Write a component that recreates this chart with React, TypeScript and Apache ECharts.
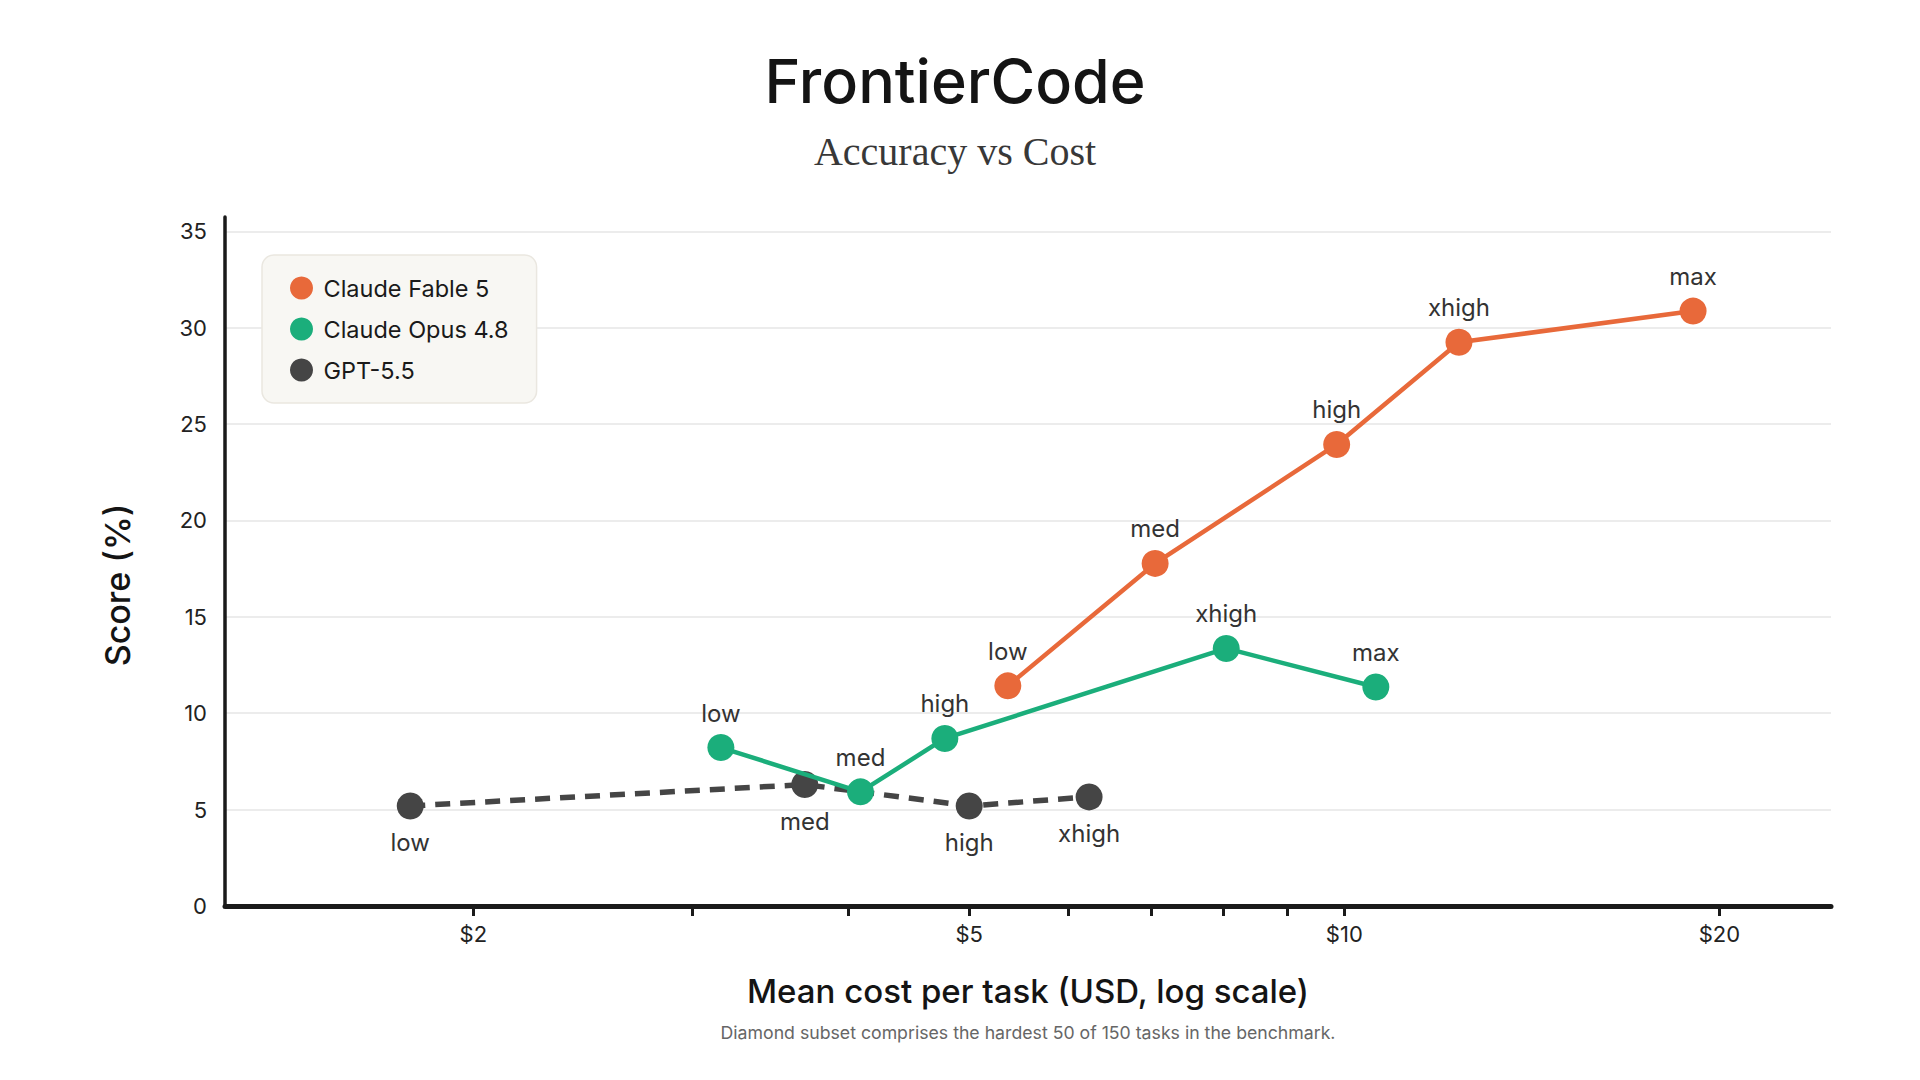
import * as echarts from 'echarts';
import React, { useEffect, useRef } from 'react';

const levels5 = ['low', 'med', 'high', 'xhigh', 'max'];
const levels4 = ['low', 'med', 'high', 'xhigh'];

const fableCost = [5.37, 7.05, 9.86, 12.36, 19.05];
const fableScore = [11.42, 17.77, 23.94, 29.24, 30.86];

const opusCost = [3.16, 4.09, 4.78, 8.04, 10.6];
const opusScore = [8.22, 5.92, 8.69, 13.36, 11.36];

const gptCost = [1.78, 3.69, 5.0, 6.24];
const gptScore = [5.19, 6.3, 5.19, 5.66];

const xTickValues = [2, 3, 4, 5, 6, 7, 8, 9, 10, 20];
const xLabelValues = [2, 5, 10, 20];

const FONT = 'Inter, "Noto Sans", sans-serif';
const ORANGE = '#E8693A';
const GREEN = '#1BAE7B';
const DARK = '#454545';

const toPoints = (cost: number[], score: number[], names: string[]) =>
  cost.map((c, i) => ({ name: names[i], value: [c, score[i]] }));

const App: React.FC = () => {
  const chartRef = useRef<HTMLDivElement>(null);

  useEffect(() => {
    if (!chartRef.current) return;
    const chart = echarts.init(chartRef.current, undefined, { renderer: 'svg' });

    const labelStyle = {
      show: true,
      formatter: '{b}',
      fontFamily: FONT,
      fontSize: 24,
      color: '#333',
      distance: 9,
    };

    const option: echarts.EChartsOption = {
      animation: false,
      backgroundColor: '#fff',
      graphic: [
        {
          type: 'text',
          x: 955,
          y: 81,
          style: {
            text: 'FrontierCode',
            fontFamily: FONT,
            fontSize: 61,
            fontWeight: 500,
            fill: '#141414',
            textAlign: 'center',
            textVerticalAlign: 'middle',
          },
        },
        {
          type: 'text',
          x: 955,
          y: 151,
          style: {
            text: 'Accuracy vs Cost',
            fontFamily: '"Liberation Serif", serif',
            fontSize: 40,
            fill: '#383838',
            textAlign: 'center',
            textVerticalAlign: 'middle',
          },
        },
        {
          type: 'text',
          x: 117,
          y: 585,
          rotation: Math.PI / 2,
          style: {
            text: 'Score (%)',
            fontFamily: FONT,
            fontSize: 34,
            fontWeight: 500,
            fill: '#141414',
            textAlign: 'center',
            textVerticalAlign: 'middle',
          },
        },
        {
          type: 'text',
          x: 1028,
          y: 1032,
          style: {
            text: 'Diamond subset comprises the hardest 50 of 150 tasks in the benchmark.',
            fontFamily: FONT,
            fontSize: 17.7,
            fill: '#666',
            textAlign: 'center',
            textVerticalAlign: 'middle',
          },
        },
      ],
      legend: {
        data: ['Claude Fable 5', 'Claude Opus 4.8', 'GPT-5.5'],
        orient: 'vertical',
        left: 262,
        top: 255,
        icon: 'circle',
        itemWidth: 34,
        itemHeight: 23,
        itemGap: 17,
        padding: [21, 28, 21, 28],
        backgroundColor: '#F8F7F3',
        borderColor: '#EAE7E0',
        borderWidth: 1.5,
        borderRadius: 12,
        textStyle: { fontFamily: FONT, fontSize: 23.5, color: '#1a1a1a' },
      },
      grid: { left: 225, right: 89, top: 217, bottom: 174 },
      xAxis: {
        type: 'log',
        logBase: 10,
        min: 1.264,
        max: 24.58,
        name: 'Mean cost per task (USD, log scale)',
        nameLocation: 'middle',
        nameGap: 68,
        nameTextStyle: { fontFamily: FONT, fontSize: 33, fontWeight: 500, color: '#141414' },
        axisLine: { show: true, lineStyle: { color: '#1a1a1a', width: 5 } },
        axisTick: {
          show: true,
          customValues: xTickValues,
          length: 10,
          lineStyle: { color: '#1a1a1a', width: 3 },
        },
        axisLabel: {
          customValues: xLabelValues,
          formatter: (v: number) => '$' + Math.round(v),
          fontFamily: FONT,
          fontSize: 22,
          color: '#222',
          margin: 17,
        },
        splitLine: { show: false },
        minorTick: { show: false },
        minorSplitLine: { show: false },
      },
      yAxis: {
        type: 'value',
        min: 0,
        max: 35.74,
        interval: 5,
        axisLine: { show: true, lineStyle: { color: '#1a1a1a', width: 3.5 } },
        axisTick: { show: false },
        axisLabel: {
          fontFamily: FONT,
          fontSize: 22,
          color: '#222',
          margin: 18,
          showMaxLabel: false,
        },
        splitLine: { show: true, showMaxLine: false, lineStyle: { color: '#E6E6E6', width: 1.5 } },
      },
      series: [
        {
          name: 'GPT-5.5',
          type: 'line',
          data: toPoints(gptCost, gptScore, levels4),
          symbol: 'circle',
          symbolSize: 27,
          itemStyle: { color: DARK },
          lineStyle: { color: DARK, width: 5.5, type: [15, 10] },
          label: { ...labelStyle, position: 'bottom', distance: 11 },
          z: 2,
        },
        {
          name: 'Claude Opus 4.8',
          type: 'line',
          data: toPoints(opusCost, opusScore, levels5),
          symbol: 'circle',
          symbolSize: 27,
          itemStyle: { color: GREEN },
          lineStyle: { color: GREEN, width: 4.5 },
          label: { ...labelStyle, position: 'top' },
          z: 3,
        },
        {
          name: 'Claude Fable 5',
          type: 'line',
          data: toPoints(fableCost, fableScore, levels5),
          symbol: 'circle',
          symbolSize: 27,
          itemStyle: { color: ORANGE },
          lineStyle: { color: ORANGE, width: 4.5 },
          label: { ...labelStyle, position: 'top' },
          z: 4,
        },
      ],
    };

    chart.setOption(option);
    return () => chart.dispose();
  }, []);

  return (
    <div
      ref={chartRef}
      style={{ position: 'fixed', left: 0, top: 0, width: '1920px', height: '1080px' }}
    />
  );
};

export default App;
